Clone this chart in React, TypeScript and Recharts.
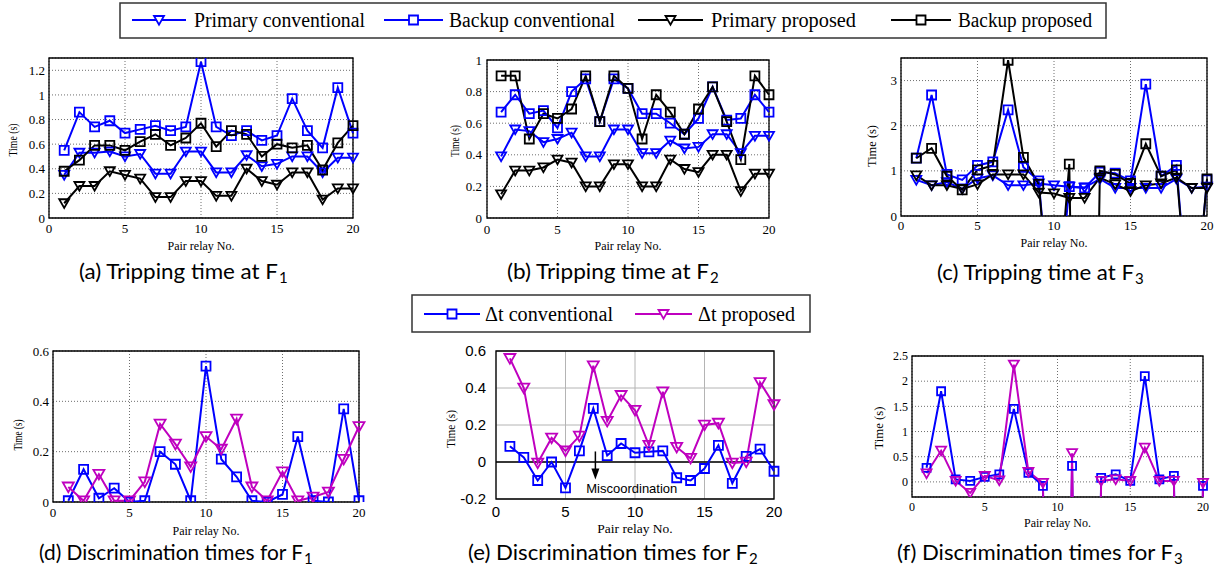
import React from "react"
import { LineChart, Line, XAxis, YAxis, CartesianGrid, ReferenceArea, ReferenceLine, ReferenceDot } from "recharts"

// pair relay numbers (x axis of every panel)
const relayNo = [1, 2, 3, 4, 5, 6, 7, 8, 9, 10, 11, 12, 13, 14, 15, 16, 17, 18, 19, 20]
const xTicks = [0, 5, 10, 15, 20]

// (a) tripping time at F1
const primaryConvA = [0.35, 0.53, 0.53, 0.54, 0.5, 0.52, 0.36, 0.36, 0.54, 0.54, 0.37, 0.37, 0.51, 0.42, 0.44, 0.5, 0.5, 0.37, 0.49, 0.49]
const backupConvA = [0.55, 0.86, 0.74, 0.79, 0.69, 0.72, 0.75, 0.71, 0.74, 1.27, 0.74, 0.67, 0.71, 0.63, 0.67, 0.97, 0.71, 0.57, 1.06, 0.69]
const primaryPropA = [0.12, 0.26, 0.26, 0.38, 0.35, 0.32, 0.17, 0.17, 0.3, 0.3, 0.18, 0.18, 0.4, 0.3, 0.27, 0.37, 0.37, 0.15, 0.24, 0.24]
const backupPropA = [0.38, 0.47, 0.59, 0.59, 0.55, 0.62, 0.68, 0.59, 0.65, 0.77, 0.58, 0.71, 0.68, 0.5, 0.6, 0.57, 0.59, 0.39, 0.61, 0.75]

// (b) tripping time at F2
const primaryConvB = [0.39, 0.56, 0.55, 0.48, 0.5, 0.54, 0.39, 0.39, 0.56, 0.56, 0.41, 0.41, 0.49, 0.44, 0.45, 0.53, 0.53, 0.41, 0.52, 0.52]
const backupConvB = [0.67, 0.78, 0.66, 0.68, 0.57, 0.8, 0.88, 0.61, 0.88, 0.82, 0.66, 0.66, 0.6, 0.53, 0.63, 0.83, 0.62, 0.63, 0.78, 0.67]
const primaryPropB = [0.15, 0.3, 0.3, 0.32, 0.37, 0.35, 0.2, 0.2, 0.34, 0.34, 0.2, 0.2, 0.37, 0.31, 0.29, 0.4, 0.4, 0.17, 0.28, 0.28]
const backupPropB = [0.9, 0.9, 0.5, 0.66, 0.63, 0.69, 0.9, 0.61, 0.9, 0.82, 0.5, 0.78, 0.67, 0.53, 0.69, 0.83, 0.61, 0.37, 0.9, 0.78]

// (c) tripping time at F3 (negative values fall off the axis)
const primaryConvC = [0.8, 0.68, 0.75, 0.6, 0.83, 0.9, 0.68, 0.68, 0.72, 0.68, 0.65, 0.63, 0.82, 0.62, 0.62, 0.62, 0.62, 0.82, 0.62, 0.65]
const backupConvC = [1.28, 2.68, 0.92, 0.8, 1.12, 1.2, 2.35, 1.08, 0.78, -3, 0.65, 0.62, 0.97, 0.95, 0.78, 2.92, 0.88, 1.12, -3, 0.8]
const primaryPropC = [0.9, 0.68, 0.68, 0.6, 0.7, 0.92, 0.92, 0.92, 0.52, 0.5, 0.4, 0.4, 0.85, 0.7, 0.55, 0.68, 0.72, 0.85, 0.62, 0.62]
const backupPropC = [1.28, 1.5, 0.88, 0.58, 1.02, 1.12, 3.45, 1.3, 0.7, -3, 1.15, -20, 1.0, 0.92, 0.72, 1.6, 0.88, 1.02, -3, 0.82]

// (d)-(f) discrimination times
const dtConvD = [0.005, 0.13, 0.015, 0.055, 0.0, 0.005, 0.2, 0.15, 0.005, 0.54, 0.17, 0.1, 0.005, 0.0, 0.03, 0.26, 0.005, 0.0, 0.37, 0.005]
const dtPropD = [0.06, 0.005, 0.11, 0.005, 0.005, 0.08, 0.31, 0.23, 0.14, 0.26, 0.21, 0.33, 0.06, 0.005, 0.12, 0.005, 0.02, 0.04, 0.17, 0.3]
const dtConvE = [0.085, 0.025, -0.1, 0.0, -0.14, 0.06, 0.29, 0.035, 0.1, 0.05, 0.055, 0.06, -0.085, -0.1, -0.035, 0.09, -0.115, 0.03, 0.07, -0.05]
const dtPropE = [0.56, 0.4, -0.005, 0.13, 0.06, 0.14, 0.52, 0.22, 0.36, 0.28, 0.09, 0.38, 0.08, 0.02, 0.2, 0.21, -0.005, 0.0, 0.43, 0.31]
const dtConvF = [0.28, 1.8, 0.05, 0.02, 0.1, 0.15, 1.45, 0.18, -0.08, -20, 0.32, -20, 0.08, 0.15, 0.02, 2.1, 0.05, 0.12, -20, -0.08]
const dtPropF = [0.17, 0.62, 0.02, -0.22, 0.12, 0.03, 2.33, 0.2, -0.02, -20, 0.57, -20, 0.02, 0.05, 0.02, 0.68, 0.02, 0.02, -20, -0.02]

const BLUE = "#0000ff"
const BLACK = "#000000"
const MAGENTA = "#bf00bf"
const SERIF = "Liberation Serif, Times New Roman, serif"
const SANS = "Liberation Sans, Arial, sans-serif"

// space kept round each plot area inside its chart
const PAD_L = 60
const PAD_T = 12
const PAD_R = 12
const X_AXIS_H = 40

type Marker = "tri" | "sq"
interface Series {
  key: string
  values: number[]
  color: string
  marker: Marker
}

function markerPath(kind: Marker, cx: number, cy: number, s: number) {
  if (kind === "sq") return `M${cx - s},${cy - s}H${cx + s}V${cy + s}H${cx - s}Z`
  return `M${cx - s},${cy - s * 0.8}H${cx + s}L${cx},${cy + s * 0.95}Z`
}

function makeDot(kind: Marker, color: string, size: number) {
  return (props: any) => {
    const { cx, cy, index } = props
    if (cx == null || cy == null || isNaN(cy)) return <g key={`d-${index}`} />
    return <path key={`d-${index}`} d={markerPath(kind, cx, cy, size)} fill="none" stroke={color} strokeWidth={1.8} />
  }
}

interface PanelProps {
  box: [number, number, number, number] // plot area left, top, right, bottom (page px)
  yDomain: [number, number]
  yTicks: number[]
  series: Series[]
  tickFont: string
  tickSize: number
  tickGapX: number
  tickGapY: number
  xLabelSize: number
  xLabelBase: number
  yLabelX: number
  yLabelY: number
  yLabelLen: number
  solidGrid?: boolean
  sq: number
  tri: number
  children?: React.ReactNode
}

function Panel(p: PanelProps) {
  const [l, t, r, b] = p.box
  const cl = l - PAD_L
  const ct = t - PAD_T
  const w = r - l + PAD_L + PAD_R
  const h = b - t + PAD_T + X_AXIS_H
  const data = relayNo.map((n, i) => {
    const row: any = { relay: n }
    p.series.forEach((s) => (row[s.key] = s.values[i]))
    return row
  })
  const tick = { fontFamily: p.tickFont, fontSize: p.tickSize, fill: "#000" }

  return (
    <div style={{ position: "absolute", left: cl, top: ct }}>
      <LineChart width={w} height={h} data={data} margin={{ top: PAD_T, right: PAD_R, bottom: 0, left: 0 }}>
        <CartesianGrid
          stroke={p.solidGrid ? "#b4b4b4" : "#6e6e6e"}
          strokeDasharray={p.solidGrid ? undefined : "1 2"}
          strokeWidth={1}
        />
        <XAxis
          dataKey="relay"
          type="number"
          domain={[0, 20]}
          ticks={xTicks}
          height={X_AXIS_H}
          axisLine={false}
          tickLine={false}
          tickSize={0}
          tickMargin={p.tickGapX}
          tick={tick}
          interval={0}
          label={{
            value: "Pair relay No.",
            position: "insideBottom",
            offset: b + X_AXIS_H - p.xLabelBase,
            style: { fontFamily: SERIF, fontSize: p.xLabelSize, fill: "#000" },
          }}
        />
        <YAxis
          type="number"
          domain={p.yDomain}
          ticks={p.yTicks}
          allowDataOverflow
          width={PAD_L}
          axisLine={false}
          tickLine={false}
          tickSize={0}
          tickMargin={p.tickGapY}
          tick={tick}
          interval={0}
          label={{
            content: () => (
              <text
                x={p.yLabelX - cl}
                y={p.yLabelY - ct}
                transform={`rotate(-90 ${p.yLabelX - cl} ${p.yLabelY - ct})`}
                textAnchor="middle"
                dominantBaseline="central"
                fontFamily={SERIF}
                fontSize={12}
                textLength={p.yLabelLen}
                lengthAdjust="spacingAndGlyphs"
              >
                Time (s)
              </text>
            ),
          }}
        />
        {p.children}
        {p.series.map((s) => (
          <Line
            key={s.key}
            dataKey={s.key}
            type="linear"
            stroke={s.color}
            strokeWidth={2}
            dot={makeDot(s.marker, s.color, s.marker === "sq" ? p.sq : p.tri)}
            activeDot={false}
            isAnimationActive={false}
          />
        ))}
        <ReferenceArea
          x1={0}
          x2={20}
          y1={p.yDomain[0]}
          y2={p.yDomain[1]}
          fill="none"
          fillOpacity={0}
          stroke="#000"
          strokeWidth={1.3}
          ifOverflow="visible"
        />
      </LineChart>
    </div>
  )
}

const tripSeries = (pc: number[], bc: number[], pp: number[], bp: number[]): Series[] => [
  { key: "primaryConv", values: pc, color: BLUE, marker: "tri" },
  { key: "backupConv", values: bc, color: BLUE, marker: "sq" },
  { key: "primaryProp", values: pp, color: BLACK, marker: "tri" },
  { key: "backupProp", values: bp, color: BLACK, marker: "sq" },
]

const dtSeries = (conv: number[], prop: number[]): Series[] => [
  { key: "dtConv", values: conv, color: BLUE, marker: "sq" },
  { key: "dtProp", values: prop, color: MAGENTA, marker: "tri" },
]

function LegendItem({ x1, x2, y, color, marker, label, tx, len }: any) {
  const cx = (x1 + x2) / 2
  return (
    <g>
      <line x1={x1} x2={x2} y1={y} y2={y} stroke={color} strokeWidth={2} />
      <path d={markerPath(marker, cx, y, marker === "sq" ? 4.5 : 5)} fill="#fff" stroke={color} strokeWidth={1.8} />
      <text x={tx} y={y + 7} fontFamily={SERIF} fontSize={20} textLength={len} lengthAdjust="spacingAndGlyphs">
        {label}
      </text>
    </g>
  )
}

// caption with its subscript drawn as a second text just after the main one
function Caption({ x, y, len, size, text, sub }: { x: number; y: number; len: number; size: number; text: string; sub: string }) {
  const mainLen = len - 9
  return (
    <g fontFamily="Lato, Carlito, sans-serif">
      <text x={x} y={y} fontSize={size} textLength={mainLen} lengthAdjust="spacingAndGlyphs">
        {text}
      </text>
      <text x={x + mainLen + 1} y={y + 4} fontSize={15}>
        {sub}
      </text>
    </g>
  )
}

export default function App() {
  return (
    <div style={{ position: "absolute", left: 0, top: 0, width: 1215, height: 567, overflow: "hidden", background: "#fff" }}>
      <Panel
        box={[49, 58, 353, 218]}
        yDomain={[0, 1.3]}
        yTicks={[0, 0.2, 0.4, 0.6, 0.8, 1, 1.2]}
        series={tripSeries(primaryConvA, backupConvA, primaryPropA, backupPropA)}
        tickFont={SERIF}
        tickSize={13}
        tickGapX={6}
        tickGapY={4}
        xLabelSize={12}
        xLabelBase={250}
        yLabelX={13}
        yLabelY={140}
        yLabelLen={33}
        sq={4.5}
        tri={5}
      />
      <Panel
        box={[487, 60, 769, 218]}
        yDomain={[0, 1]}
        yTicks={[0, 0.2, 0.4, 0.6, 0.8, 1]}
        series={tripSeries(primaryConvB, backupConvB, primaryPropB, backupPropB)}
        tickFont={SERIF}
        tickSize={13}
        tickGapX={7}
        tickGapY={5}
        xLabelSize={12}
        xLabelBase={250}
        yLabelX={455}
        yLabelY={141}
        yLabelLen={32}
        sq={4.5}
        tri={5}
      />
      <Panel
        box={[901, 58, 1207, 216]}
        yDomain={[0, 3.5]}
        yTicks={[0, 1, 2, 3]}
        series={tripSeries(primaryConvC, backupConvC, primaryPropC, backupPropC)}
        tickFont={SERIF}
        tickSize={13}
        tickGapX={5}
        tickGapY={4}
        xLabelSize={12}
        xLabelBase={247}
        yLabelX={872}
        yLabelY={146}
        yLabelLen={42}
        sq={4.5}
        tri={5}
      />
      <Panel
        box={[53, 351, 359, 502]}
        yDomain={[0, 0.6]}
        yTicks={[0, 0.2, 0.4, 0.6]}
        series={dtSeries(dtConvD, dtPropD)}
        tickFont={SERIF}
        tickSize={13}
        tickGapX={6}
        tickGapY={4}
        xLabelSize={12}
        xLabelBase={535}
        yLabelX={18}
        yLabelY={435}
        yLabelLen={31}
        sq={4.5}
        tri={5.5}
      />
      <Panel
        box={[496, 351, 774, 499]}
        yDomain={[-0.2, 0.6]}
        yTicks={[-0.2, 0, 0.2, 0.4, 0.6]}
        series={dtSeries(dtConvE, dtPropE)}
        tickFont={SANS}
        tickSize={15}
        tickGapX={7}
        tickGapY={10}
        xLabelSize={13.5}
        xLabelBase={533}
        yLabelX={451}
        yLabelY={429}
        yLabelLen={38}
        solidGrid
        sq={4.5}
        tri={5.5}
      >
        <ReferenceLine y={0} stroke="#000" strokeWidth={1.5} />
        <ReferenceLine
          segment={[
            { x: 7.15, y: 0.057 },
            { x: 7.15, y: -0.075 },
          ]}
          stroke="#000"
          strokeWidth={1.5}
        />
        <ReferenceDot
          x={7.15}
          y={-0.095}
          shape={(props: any) => (
            <path d={`M${props.cx - 4},${props.cy - 11}L${props.cx + 4},${props.cy - 11}L${props.cx},${props.cy}Z`} fill="#000" />
          )}
        />
        <ReferenceDot
          x={9.77}
          y={-0.144}
          shape={(props: any) => (
            <text x={props.cx} y={props.cy} textAnchor="middle" dominantBaseline="central" fontFamily={SANS} fontSize={13}>
              Miscoordination
            </text>
          )}
        />
      </Panel>
      <Panel
        box={[912, 356, 1203, 497]}
        yDomain={[-0.3, 2.5]}
        yTicks={[0, 0.5, 1, 1.5, 2, 2.5]}
        series={dtSeries(dtConvF, dtPropF)}
        tickFont={SERIF}
        tickSize={12}
        tickGapX={5}
        tickGapY={4}
        xLabelSize={12}
        xLabelBase={527}
        yLabelX={879}
        yLabelY={428}
        yLabelLen={43}
        sq={4}
        tri={5}
      />

      <svg width={1215} height={567} style={{ position: "absolute", left: 0, top: 0, pointerEvents: "none" }}>
        <rect x={120} y={3} width={986} height={35} fill="#fff" stroke="#333" strokeWidth={1.5} />
        <LegendItem x1={132} x2={186} y={20} color={BLUE} marker="tri" label="Primary conventional" tx={194} len={171} />
        <LegendItem x1={384} x2={443} y={20} color={BLUE} marker="sq" label="Backup conventional" tx={449} len={166} />
        <LegendItem x1={638} x2={703} y={20} color={BLACK} marker="tri" label="Primary proposed" tx={711} len={145} />
        <LegendItem x1={891} x2={951} y={20} color={BLACK} marker="sq" label="Backup proposed" tx={958} len={134} />

        <rect x={412} y={295} width={398} height={37} fill="#fff" stroke="#333" strokeWidth={1.5} />
        <LegendItem x1={424} x2={480} y={314} color={BLUE} marker="sq" label="Δt conventional" tx={485} len={128} />
        <LegendItem x1={635} x2={692} y={314} color={MAGENTA} marker="tri" label="Δt proposed" tx={698} len={97} />

        <Caption x={79} y={279} len={208} size={21} text="(a) Tripping time at F" sub="1" />
        <Caption x={507} y={279} len={211} size={21} text="(b) Tripping time at F" sub="2" />
        <Caption x={937} y={280} len={206} size={21} text="(c) Tripping time at F" sub="3" />
        <Caption x={39} y={560} len={273} size={21} text="(d) Discrimination times for F" sub="1" />
        <Caption x={468} y={560} len={289} size={21.5} text="(e) Discrimination times for F" sub="2" />
        <Caption x={897} y={560} len={285} size={21.5} text="(f) Discrimination times for F" sub="3" />
      </svg>
    </div>
  )
}
